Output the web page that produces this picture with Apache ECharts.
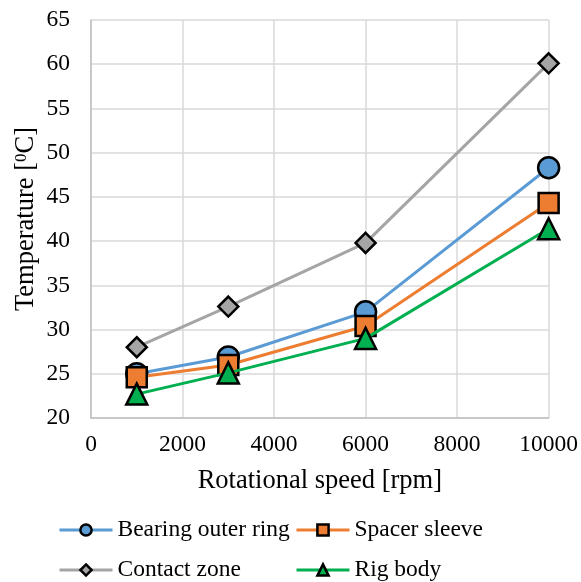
<!DOCTYPE html>
<html><head><meta charset="utf-8">
<script src="https://cdn.jsdelivr.net/npm/echarts@6/dist/echarts.min.js"></script>
<style>html,body{margin:0;padding:0;background:#fff}#c{width:581px;height:582px}</style>
</head><body><div id="c"></div>
<script>
const speeds = [1000, 3000, 6000, 10000];
const bearingOuterRing = [25.0, 26.9, 32.0, 48.3];
const spacerSleeve = [24.6, 26.0, 30.4, 44.3];
const contactZone = [28.0, 32.6, 39.8, 60.1];
const rigBody = [22.7, 25.1, 29.0, 41.4];
const seriesNames = ['Bearing outer ring', 'Spacer sleeve', 'Contact zone', 'Rig body'];

const font = 'Liberation Serif, Times New Roman, serif';
const pair = arr => speeds.map((s, i) => [s, arr[i]]);
const mk = (name, data, color, symbol, size, z) => ({
  name, type: 'line', data: pair(data), symbol, symbolSize: size, z,
  lineStyle: { color, width: 3 },
  itemStyle: { color, borderColor: '#000', borderWidth: 2.5 },
  emphasis: { disabled: true }, animation: false
});
const legendAt = (name, left, top) => ({
  data: [name], left, top, itemWidth: 53, itemHeight: 14, itemGap: 0, padding: 0,
  lineStyle: { width: 3 },
  itemStyle: { borderWidth: 2.5 },
  textStyle: { fontFamily: font, fontSize: 23.5, color: '#000', padding: [0, 0, 0, 0] },
  selectedMode: false
});

const chart = echarts.init(document.getElementById('c'));
chart.setOption({
  animation: false,
  grid: { left: 91, right: 31, top: 20, bottom: 164 },
  xAxis: {
    type: 'value', min: 0, max: 10000, interval: 2000,
    name: 'Rotational speed [rpm]', nameLocation: 'middle', nameGap: 50, nameMoveOverlap: false,
    nameTextStyle: { fontFamily: font, fontSize: 26.5, color: '#000' },
    axisLine: { show: true, lineStyle: { color: '#BFBFBF', width: 1.5 } },
    axisTick: { show: false },
    axisLabel: { fontFamily: font, fontSize: 23.5, color: '#000', margin: 15, formatter: v => String(v) },
    splitLine: { show: true, lineStyle: { color: '#D9D9D9', width: 1.5 } }
  },
  yAxis: {
    type: 'value', min: 20, max: 65, interval: 5,
    name: '{a|Temperature [}{s|0}{a|C]}', nameLocation: 'middle', nameGap: 51, nameMoveOverlap: false,
    nameTextStyle: {
      fontFamily: font, fontSize: 26.5, color: '#000',
      rich: {
        a: { fontFamily: font, fontSize: 26.5, color: '#000' },
        s: { fontFamily: font, fontSize: 17, color: '#000', verticalAlign: 'top', padding: [0, 0, 9, 0] }
      }
    },
    axisLine: { show: true, lineStyle: { color: '#BFBFBF', width: 1.5 } },
    axisTick: { show: false },
    axisLabel: { fontFamily: font, fontSize: 23.5, color: '#000', margin: 21 },
    splitLine: { show: true, lineStyle: { color: '#D9D9D9', width: 1.5 } }
  },
  legend: [
    legendAt(seriesNames[0], 58, 518),
    legendAt(seriesNames[1], 295, 518),
    legendAt(seriesNames[2], 58, 558),
    legendAt(seriesNames[3], 295, 558)
  ],
  series: [
    mk(seriesNames[2], contactZone, '#A5A5A5', 'diamond', 20, 2),
    mk(seriesNames[0], bearingOuterRing, '#5B9BD5', 'circle', 21, 3),
    mk(seriesNames[1], spacerSleeve, '#ED7D31', 'rect', 20, 4),
    mk(seriesNames[3], rigBody, '#00B050', 'triangle', 21, 5)
  ]
});
</script></body></html>
